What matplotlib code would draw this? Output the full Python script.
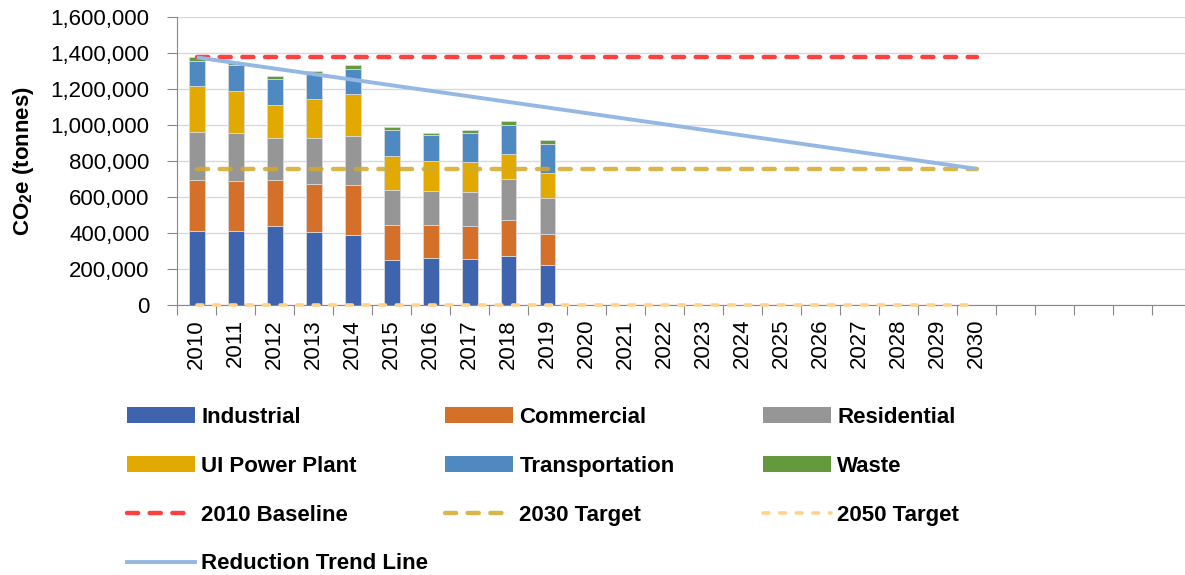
import matplotlib
matplotlib.use("Agg")
import matplotlib.pyplot as plt
import numpy as np
from matplotlib.patches import Patch
from matplotlib.lines import Line2D

plt.rcParams['font.family'] = ['Liberation Sans', 'DejaVu Sans']
plt.rcParams['mathtext.fontset'] = 'custom'
plt.rcParams['mathtext.rm'] = 'Liberation Sans'
plt.rcParams['mathtext.bf'] = 'Liberation Sans:bold'

# ---- data ----
categories = [str(y) for y in range(2010, 2031)] + [''] * 5
bar_years = list(range(2010, 2020))
industrial = [412000, 409000, 440000, 403000, 388000, 248000, 262000, 257000, 270000, 220000]
commercial = [283000, 277000, 252000, 270000, 276000, 198000, 182000, 183000, 200000, 176000]
residential = [267000, 267000, 236000, 255000, 272000, 190000, 190000, 189000, 227000, 198000]
ui_power = [252000, 236000, 184000, 215000, 235000, 189000, 163000, 165000, 143000, 140000]
transportation = [142000, 141000, 142000, 143000, 140000, 144000, 145000, 159000, 159000, 161000]
waste = [18000, 12000, 15000, 13000, 19000, 17000, 14000, 20000, 20000, 19000]

line_years = [2010, 2030]
baseline_2010 = [1374000, 1374000]
target_2030 = [755700, 755700]
target_2050 = [0, 0]
trend_line = [1374000, 755700]

series = [
    ("Industrial", industrial, "#3D64AD"),
    ("Commercial", commercial, "#D5702B"),
    ("Residential", residential, "#969696"),
    ("UI Power Plant", ui_power, "#E2AA00"),
    ("Transportation", transportation, "#4E8AC1"),
    ("Waste", waste, "#64993E"),
]

fig = plt.figure(figsize=(11.85, 5.75), dpi=100)
ax = fig.add_axes([177.3 / 1185, 270 / 575, (1191 - 177.3) / 1185, 288.3 / 575])

xpos = {c: i for i, c in enumerate(categories) if c}
bx = np.array([xpos[str(y)] for y in bar_years])
bottom = np.zeros(len(bar_years))
handles = {}
for name, vals, col in series:
    ax.bar(bx, vals, width=0.4, bottom=bottom, color=col,
           edgecolor="#d9d9d9", linewidth=0.6, zorder=3, label=name)
    handles[name] = Patch(facecolor=col, edgecolor='none')
    bottom += np.array(vals)

lx = [xpos[str(y)] for y in line_years]
ax.plot(lx, baseline_2010, color="#FF4040", lw=3.2, dashes=(2.5, 2.6),
        dash_capstyle='round', zorder=4)
ax.plot(lx, target_2030, color="#D4A92A", alpha=0.85, lw=3.2, dashes=(2.5, 2.6),
        dash_capstyle='round', zorder=4)
ax.plot(lx, target_2050, color="#FFD38C", lw=2.6, dashes=(1.6, 3.0),
        dash_capstyle='round', zorder=4, clip_on=False)
ax.plot(lx, trend_line, color="#95B8E2", lw=2.8, solid_capstyle='butt', zorder=5)

handles["2010 Baseline"] = Line2D([], [], color="#FF4040", lw=3.2, dashes=(2.5, 2.6), dash_capstyle='round')
handles["2030 Target"] = Line2D([], [], color="#D4A92A", alpha=0.85, lw=3.2, dashes=(2.5, 2.6), dash_capstyle='round')
handles["2050 Target"] = Line2D([], [], color="#FFD38C", lw=2.6, dashes=(1.6, 3.0), dash_capstyle='round')
handles["Reduction Trend Line"] = Line2D([], [], color="#95B8E2", lw=2.8)

# axes styling
ax.set_xlim(-0.5, len(categories) - 0.5)
ax.set_ylim(0, 1600000)
ax.set_yticks(np.arange(0, 1600001, 200000))
ax.yaxis.set_major_formatter(matplotlib.ticker.FuncFormatter(lambda v, p: f"{int(v):,}"))
ax.grid(axis='y', color="#d9d9d9", lw=1.0, zorder=0)
ax.set_axisbelow(True)
for s in ['top', 'right']:
    ax.spines[s].set_visible(False)
ax.spines['left'].set_color("#888888")
ax.spines['bottom'].set_color("#888888")
ax.tick_params(axis='y', length=7, color="#888888", pad=13, labelsize=16)

ax.set_xticks(np.arange(-0.5, len(categories), 1.0))
ax.set_xticklabels([])
ax.tick_params(axis='x', which='major', length=7, color="#888888")
ax.set_xticks(np.arange(len(categories)), minor=True)
ax.set_xticklabels(categories, minor=True, rotation=90, fontsize=16)
ax.tick_params(axis='x', which='minor', length=0, pad=10)

ax.set_ylabel(r"CO$_\mathbf{2}$e (tonnes)", fontsize=16, fontweight='bold', va='center')
ax.yaxis.set_label_coords(-(177.3 - 23) / 1014, 0.5)

# legend: three columns
cols = [
    ["Industrial", "UI Power Plant", "2010 Baseline", "Reduction Trend Line"],
    ["Commercial", "Transportation", "2030 Target"],
    ["Residential", "Waste", "2050 Target"],
]
col_x = [127, 445, 763]
for names, x in zip(cols, col_x):
    fig.legend([handles[n] for n in names], names, loc='upper left',
               bbox_to_anchor=(x / 1185, 1 - 407 / 575), frameon=False,
               prop={'weight': 'bold', 'size': 16}, handlelength=3.05,
               handletextpad=0.3, labelspacing=1.25, borderpad=0,
               borderaxespad=0)

fig.savefig("out.png", dpi=100)
